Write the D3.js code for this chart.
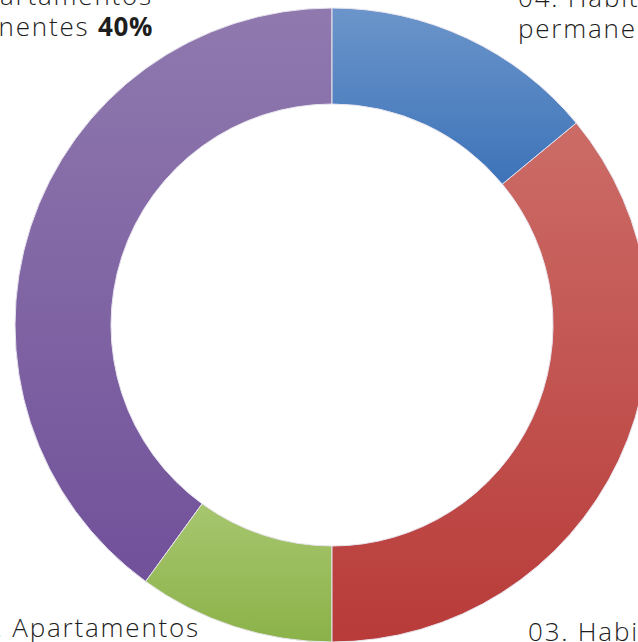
<!DOCTYPE html>
<html>
<head>
<meta charset="utf-8">
<script src="https://cdn.jsdelivr.net/npm/d3@7"></script>
<style>
  html, body { margin: 0; padding: 0; background: #fff; overflow: hidden; }
  svg { display: block; }
  text { font-family: "Open Sans", Lato, sans-serif; fill: #1e1e1e; }
</style>
</head>
<body>
<svg id="chart"></svg>
<script>
const width = 638;
const height = 642;

// data, in order going anti-clockwise from 12 o'clock
const categories = ["01. Apartamentos permanentes", "02. Apartamentos temporales",
                    "03. Habitaciones temporales", "04. Habitaciones permanentes"];
const values = [40, 10, 36, 14];
const topColors = ["#8f79ae", "#a7c66f", "#cc6c67", "#6b95ca"];
const bottomColors = ["#71519a", "#8bb249", "#b83b39", "#3d73b9"];

const cx = 332;
const cy = 325;
const outerR = 317;
const innerR = 221;

const svg = d3.select("#chart")
    .attr("width", width)
    .attr("height", height);

const defs = svg.append("defs");
categories.forEach(function(c, i) {
    const g = defs.append("linearGradient")
        .attr("id", "grad" + i)
        .attr("x1", 0).attr("y1", 0)
        .attr("x2", 0).attr("y2", 1);
    g.append("stop").attr("offset", "0%").attr("stop-color", topColors[i]);
    g.append("stop").attr("offset", "100%").attr("stop-color", bottomColors[i]);
});

const pie = d3.pie()
    .sort(null)
    .startAngle(2 * Math.PI)
    .endAngle(0)
    .value(d => d);

const arc = d3.arc()
    .innerRadius(innerR)
    .outerRadius(outerR);

const slices = svg.append("g")
    .attr("transform", `translate(${[cx, cy]})`);

slices.selectAll("path")
    .data(pie(values))
    .join("path")
    .attr("d", arc)
    .attr("fill", (d, i) => `url(#grad${i})`)
    .attr("stroke", "#e8e4ee")
    .attr("stroke-width", 1);

// labels (partly outside the visible area, like the reference)
const labels = [
    {lines: ["01. Apartamentos", "permanentes"], pct: 0, x: 153, y: 5, anchor: "end"},
    {lines: ["02. Apartamentos", "temporales"], pct: 1, x: 200, y: 637, anchor: "end"},
    {lines: ["03. Habitaciones", "temporales"], pct: 2, x: 528, y: 641, anchor: "start"},
    {lines: ["04. Habitaciones", "permanentes"], pct: 3, x: 518, y: 7, anchor: "start"}
];

const txt = svg.append("g");
labels.forEach(function(l) {
    const t = txt.append("text")
        .attr("x", l.x)
        .attr("y", l.y)
        .attr("text-anchor", l.anchor)
        .attr("font-size", 26)
        .attr("font-weight", 300)
        .attr("letter-spacing", 1.8);
    t.append("tspan").attr("x", l.x).text(l.lines[0]);
    t.append("tspan").attr("x", l.x).attr("dy", 31).text(l.lines[1] + " ");
    t.append("tspan").attr("font-weight", 700).attr("letter-spacing", 0.6).text(values[l.pct] + "%");
});
</script>
</body>
</html>
